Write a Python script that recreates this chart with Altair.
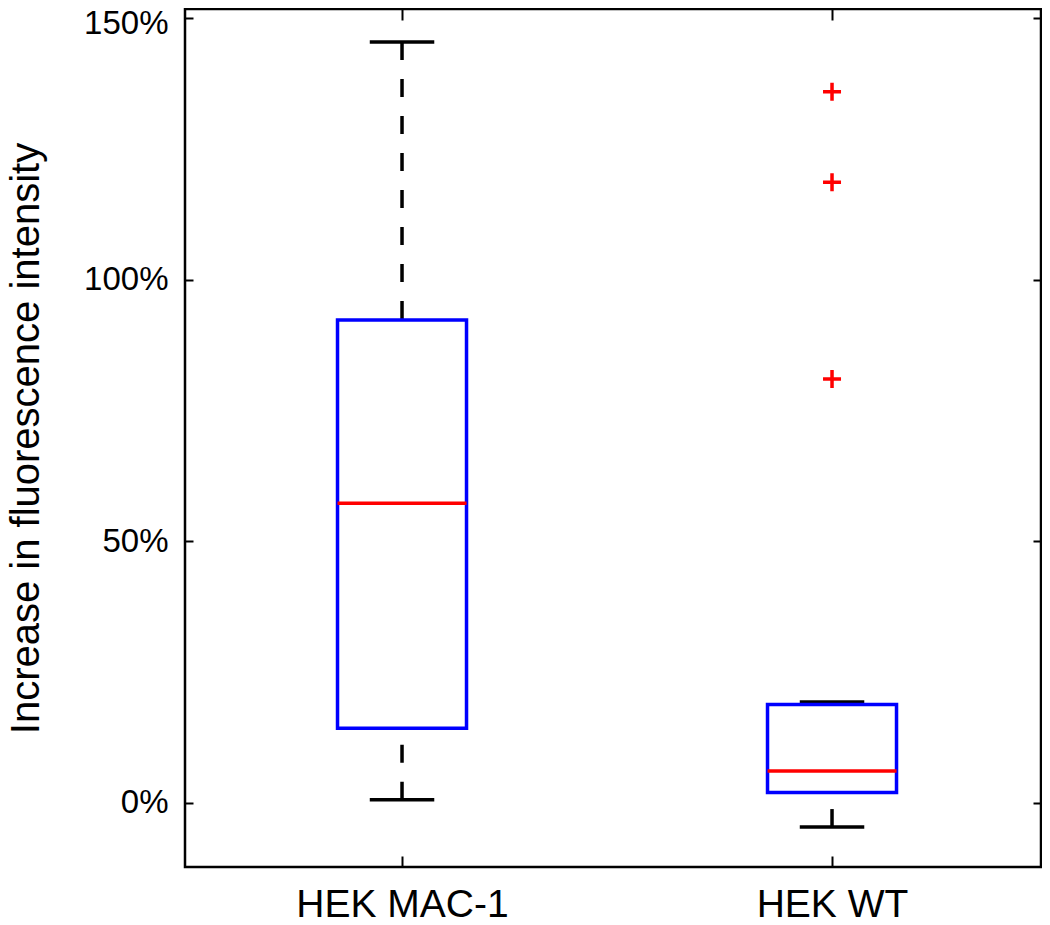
import altair as alt
import pandas as pd

# ---- data ----
groups = ["HEK MAC-1", "HEK WT"]
positions = [1, 2]
lower_whisker = [0.006, -0.046]
q1 = [0.143, 0.020]
median = [0.573, 0.061]
q3 = [0.923, 0.188]
upper_whisker = [1.454, 0.193]
outlier_group = ["HEK WT", "HEK WT", "HEK WT"]
outlier_values = [1.359, 1.186, 0.810]
y_ticks = [0, 0.5, 1.0, 1.5]

BOX_HALF = 0.15
CAP_HALF = 0.075
FONT = "Liberation Sans"

box = pd.DataFrame({
    "group": groups, "pos": positions, "lo": lower_whisker, "q1": q1,
    "med": median, "q3": q3, "hi": upper_whisker,
})
box["x_l"] = box["pos"] - BOX_HALF
box["x_r"] = box["pos"] + BOX_HALF
box["c_l"] = box["pos"] - CAP_HALF
box["c_r"] = box["pos"] + CAP_HALF

pos_of = dict(zip(groups, positions))
out = pd.DataFrame({"group": outlier_group, "value": outlier_values})
out["pos"] = out["group"].map(pos_of)

label_expr = "''"
for g, p in reversed(list(zip(groups, positions))):
    label_expr = f"datum.value == {p} ? '{g}' : ({label_expr})"

x_scale = alt.Scale(domain=[0.4953, 2.486], nice=False, zero=False)
y_scale = alt.Scale(domain=[-0.1223, 1.5172], nice=False, zero=False)

left_axis = alt.Axis(
    orient="left", values=y_ticks, format=".0%", offset=-8, tickSize=8,
    tickWidth=2, tickColor="black", domain=False, grid=False,
    labelFont=FONT, labelFontSize=33, labelColor="black", labelPadding=17,
    labelOffset={"condition": {"test": "datum.value >= 1.5", "value": 5}, "value": 0},
    labelLimit=0,
    title="Increase in fluorescence intensity", titleFont=FONT,
    titleFontSize=40, titleFontWeight="normal", titleColor="black",
    titlePadding=37,
)
bottom_axis = alt.Axis(
    orient="bottom", values=positions, labelExpr=label_expr, offset=-11,
    tickSize=11, tickWidth=2, tickColor="black", domain=False, grid=False,
    labelFont=FONT, labelFontSize=39, labelColor="black", labelPadding=18,
    labelOverlap=False, labelFlush=False, labelLimit=0, title=None,
)
right_axis = alt.Axis(
    orient="right", values=y_ticks, offset=-8, tickSize=8, tickWidth=2,
    tickColor="black", domain=False, grid=False, labels=False, title=None,
)
top_axis = alt.Axis(
    orient="top", values=positions, offset=-11, tickSize=11, tickWidth=2,
    tickColor="black", domain=False, grid=False, labels=False, title=None,
)

base = alt.Chart(box)

whisk_hi = base.mark_rule(color="black", strokeWidth=3.5, strokeDash=[18, 19]).encode(
    x=alt.X("pos:Q", scale=x_scale, axis=bottom_axis),
    y=alt.Y("hi:Q", scale=y_scale, axis=left_axis),
    y2="q3:Q",
)
whisk_lo = base.mark_rule(color="black", strokeWidth=3.5, strokeDash=[18, 19]).encode(
    x=alt.X("pos:Q", scale=x_scale, axis=None),
    y=alt.Y("lo:Q", scale=y_scale, axis=None),
    y2="q1:Q",
)
cap_hi = base.mark_rule(color="black", strokeWidth=3.5).encode(
    x=alt.X("c_l:Q", scale=x_scale, axis=None), x2="c_r:Q",
    y=alt.Y("hi:Q", scale=y_scale, axis=None),
)
cap_lo = base.mark_rule(color="black", strokeWidth=3.5).encode(
    x=alt.X("c_l:Q", scale=x_scale, axis=None), x2="c_r:Q",
    y=alt.Y("lo:Q", scale=y_scale, axis=None),
)
boxes = base.mark_rect(fill="white", fillOpacity=0, stroke="#0000FF", strokeWidth=3.5).encode(
    x=alt.X("x_l:Q", scale=x_scale, axis=None), x2="x_r:Q",
    y=alt.Y("q1:Q", scale=y_scale, axis=None), y2="q3:Q",
)
medians = base.mark_rule(color="#FF0000", strokeWidth=3.5).encode(
    x=alt.X("x_l:Q", scale=x_scale, axis=None), x2="x_r:Q",
    y=alt.Y("med:Q", scale=y_scale, axis=None),
)
outliers = alt.Chart(out).mark_point(
    shape="M-1,0H1M0,-1V1", size=324, strokeWidth=3.5, color="#FF0000",
    filled=False, opacity=1,
).encode(
    x=alt.X("pos:Q", scale=x_scale, axis=top_axis),
    y=alt.Y("value:Q", scale=y_scale, axis=right_axis),
)

chart = alt.layer(
    whisk_hi, whisk_lo, cap_hi, cap_lo, boxes, medians, outliers
).resolve_axis(x="independent", y="independent").properties(
    width=856, height=858,
    autosize=alt.AutoSizeParams(type="none"),
    padding={"left": 177, "top": 1, "right": 1, "bottom": 50},
    background="white",
).configure_view(stroke="black", strokeWidth=2.5)

chart.save("out.html", embed_options={"renderer": "svg", "actions": False})
